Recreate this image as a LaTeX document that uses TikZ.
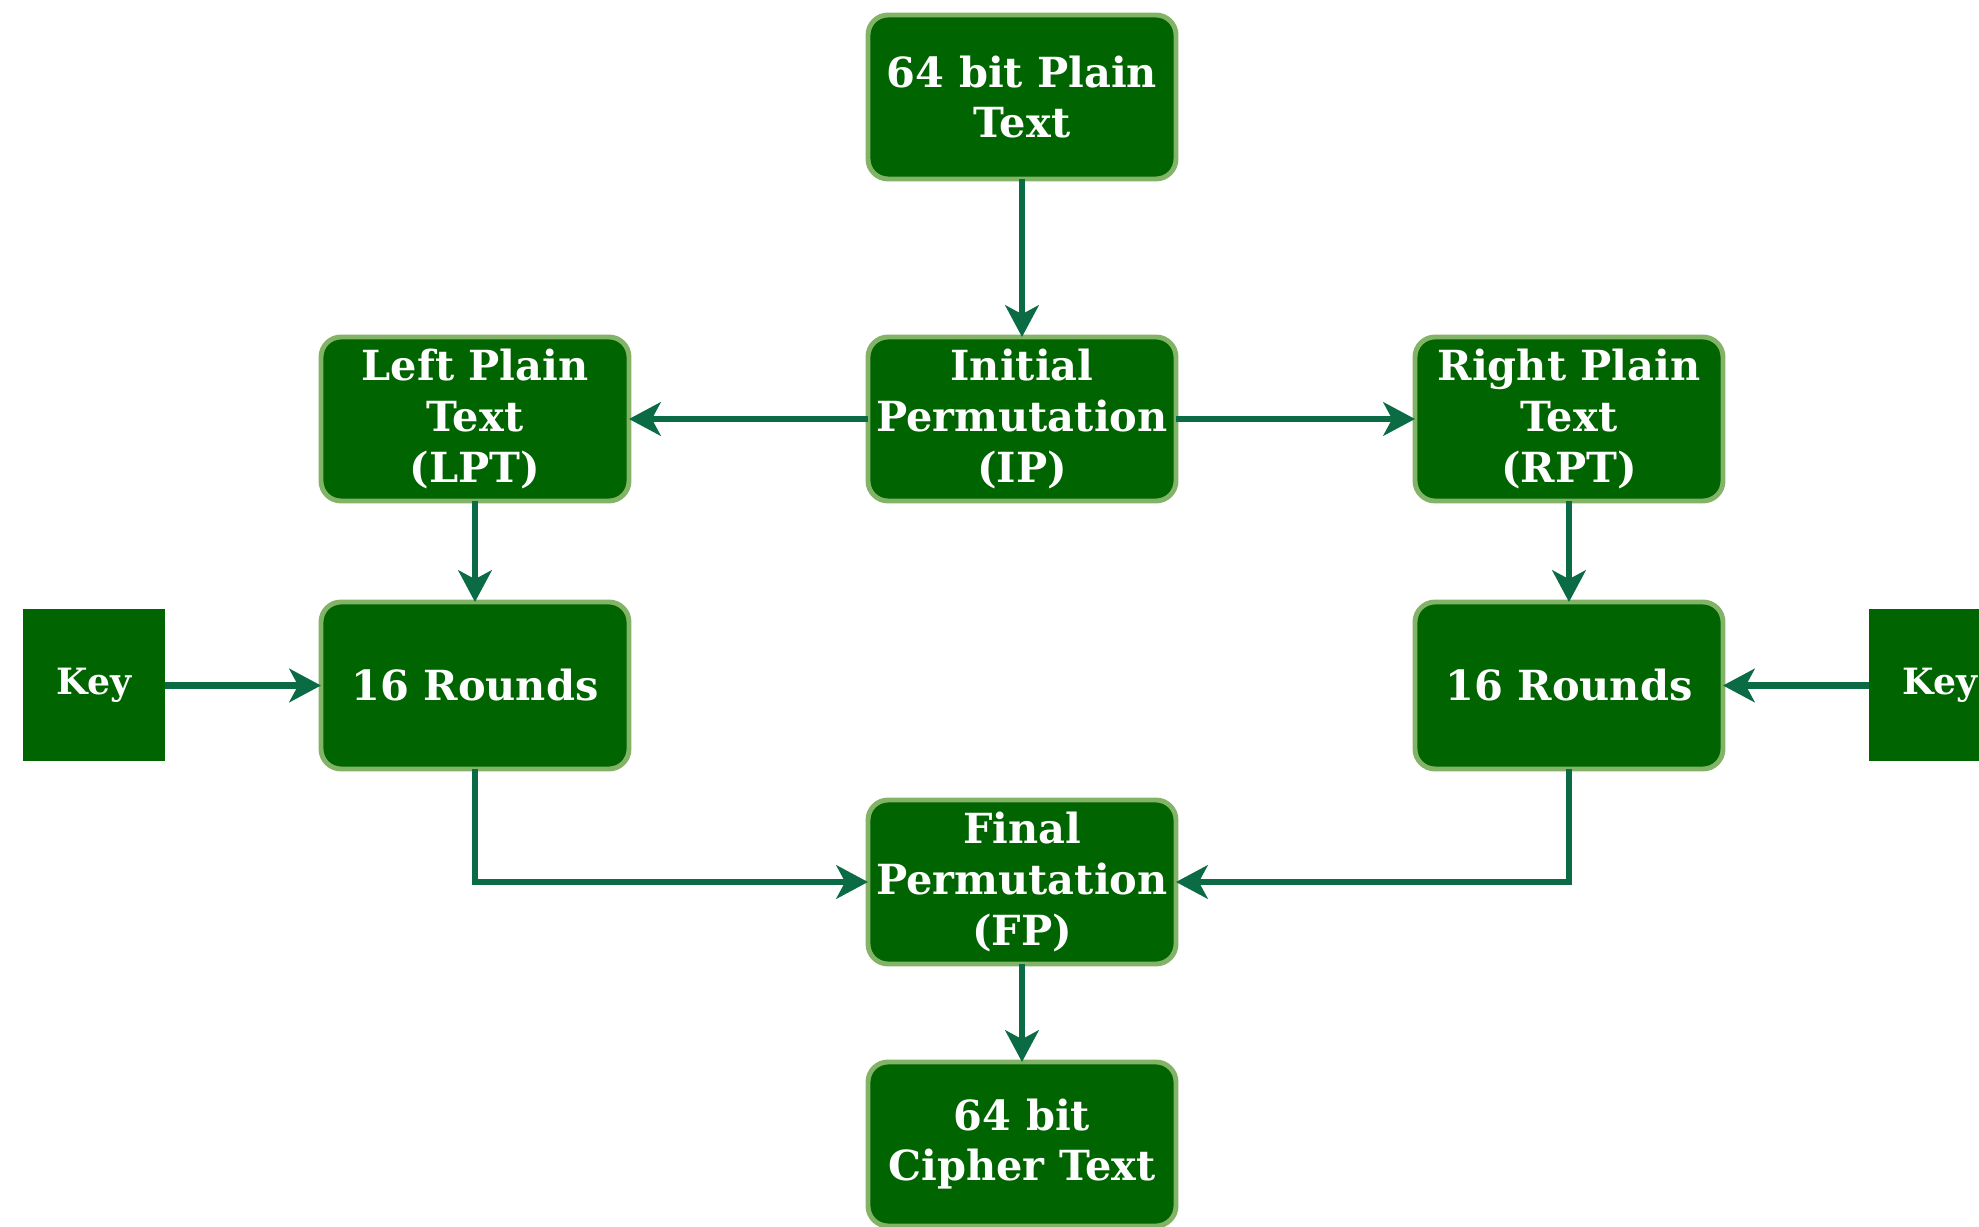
\documentclass[tikz,border=0pt]{standalone}
\usepackage{fontspec}
\setmainfont{DejaVu Serif}
\usepackage{tikz}
\usetikzlibrary{positioning,arrows.meta}

\definecolor{boxgreen}{HTML}{006400}
\definecolor{edgegreen}{HTML}{82B366}
\definecolor{arrowgreen}{HTML}{0B6B45}

\begin{document}
\begin{tikzpicture}[
        box/.style={
            rectangle,
            draw=edgegreen,
            line width=1.4pt,
            fill=boxgreen,
            text=white,
            minimum width=3.08cm,
            minimum height=1.64cm,
            align=center,
            rounded corners=0.2cm,
            inner sep=1pt,
            outer sep=0pt,
            font=\bfseries\fontsize{11.8}{14.4}\selectfont
        },
        keybox/.style={
            rectangle,
            fill=boxgreen,
            text=white,
            minimum width=1.42cm,
            minimum height=1.52cm,
            outer sep=0pt,
            font=\bfseries\fontsize{10.3}{12}\selectfont
        },
        arrow/.style={
            draw=arrowgreen,
            line width=1.9pt,
            -{Stealth[length=9pt,width=9.5pt,inset=2.5pt]}
        }
    ]
    \useasboundingbox (0,0) rectangle (19.79,12.26);

    % Plain text and initial permutation
    \node[box] (plain) at (10.22,11.29) {64 bit Plain\\Text};
    \node[box, below=1.58cm of plain] (ip) {Initial\\Permutation\\(IP)};

    % Left and right halves
    \node[box, left=2.39cm of ip] (lpt) {Left Plain\\Text\\(LPT)};
    \node[box, right=2.39cm of ip] (rpt) {Right Plain\\Text\\(RPT)};

    % Rounds with keys
    \node[box, below=1.01cm of lpt, minimum height=1.67cm] (lrounds) {16 Rounds};
    \node[box, below=1.01cm of rpt, minimum height=1.67cm] (rrounds) {16 Rounds};
    \node[keybox, left=1.56cm of lrounds] (lkey) {Key};
    \node[keybox, right=1.46cm of rrounds] (rkey) {Key};

    % Final permutation and cipher text
    \node[box] (fp) at (10.22,3.44) {Final\\Permutation\\(FP)};
    \node[box, below=0.98cm of fp] (cipher) {64 bit\\Cipher Text};

    % Connections
    \draw[arrow] (plain) -- (ip);
    \draw[arrow] (ip) -- (lpt);
    \draw[arrow] (ip) -- (rpt);
    \draw[arrow] (lpt) -- (lrounds);
    \draw[arrow] (rpt) -- (rrounds);
    \draw[arrow] (lkey) -- (lrounds);
    \draw[arrow] (rkey) -- (rrounds);

    % Rounds meet again in the final permutation
    \draw[arrow] (lrounds) |- (fp);
    \draw[arrow] (rrounds) |- (fp);
    \draw[arrow] (fp) -- (cipher);

\end{tikzpicture}
\end{document}
